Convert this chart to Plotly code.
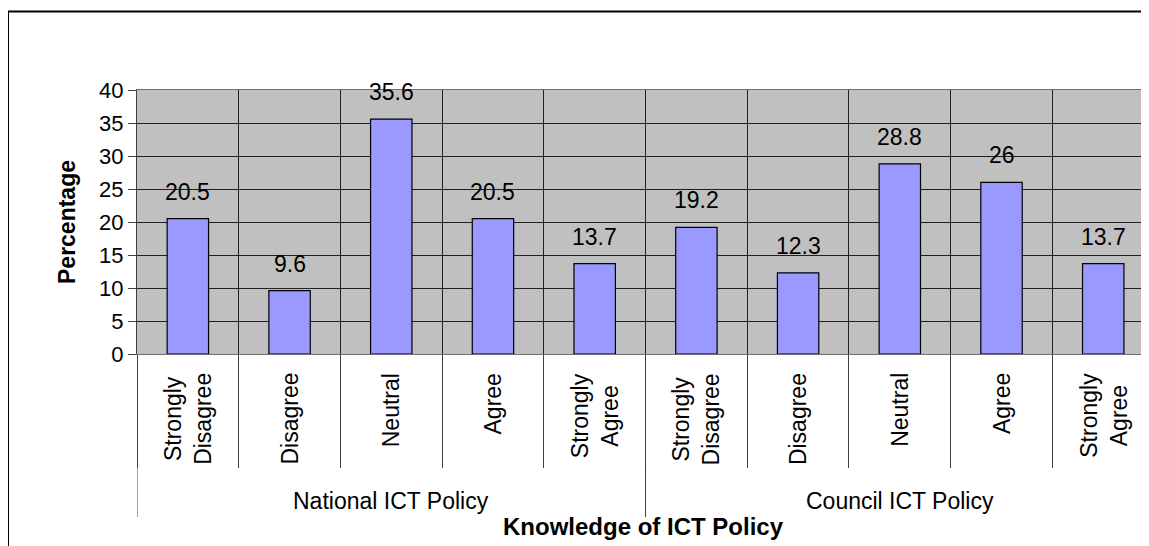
import plotly.graph_objects as go

# dane z wykresu
groups = ["National ICT Policy", "Council ICT Policy"]
responses = ["Strongly<br>Disagree", "Disagree", "Neutral", "Agree", "Strongly<br>Agree"]
national = [20.5, 9.6, 35.6, 20.5, 13.7]
council = [19.2, 12.3, 28.8, 26, 13.7]
y_ticks = [0, 5, 10, 15, 20, 25, 30, 35, 40]

values = national + council
labels = responses + responses
xs = list(range(len(values)))

FONT = "Liberation Sans, Arial, sans-serif"
FS = 23

# strona ma margines 8px, wiec wszystko jest przesuniete
W, H = 1141, 538
L, T, B = 129, 82, 192
plot_w = W - L
plot_h = H - T - B

fig = go.Figure()

fig.add_trace(go.Bar(
    x=xs,
    y=values,
    width=0.407,
    marker=dict(color="#9999FF", line=dict(color="#000000", width=1.2)),
    hoverinfo="x+y",
    showlegend=False,
))

annotations = []

# etykiety wartosci nad slupkami
for x, v in zip(xs, values):
    annotations.append(dict(
        x=x, y=v, xref="x", yref="y", text=f"{v:g}",
        showarrow=False, yanchor="bottom", yshift=12,
        font=dict(family=FONT, size=FS, color="#000000"),
    ))

# etykiety kategorii (obrocone)
for x, lab in zip(xs, labels):
    annotations.append(dict(
        x=x, y=0, xref="x", yref="paper", text=lab,
        showarrow=False, textangle=-90, yanchor="top", yshift=-17,
        font=dict(family=FONT, size=FS, color="#000000"),
    ))

# etykiety grup
n = len(responses)
for i, g in enumerate(groups):
    annotations.append(dict(
        x=i * n + (n - 1) / 2, y=0, xref="x", yref="paper", text=g,
        showarrow=False, yanchor="middle", yshift=-147,
        font=dict(family=FONT, size=FS, color="#000000"),
    ))

# tytuly osi
annotations.append(dict(
    x=0.5, y=0, xref="paper", yref="paper", text="<b>Knowledge of ICT Policy</b>",
    showarrow=False, yanchor="middle", yshift=-172,
    font=dict(family=FONT, size=24, color="#000000"),
))
annotations.append(dict(
    x=0, y=0.5, xref="paper", yref="paper", text="<b>Percentage</b>",
    showarrow=False, textangle=-90, xanchor="center", xshift=-70,
    font=dict(family=FONT, size=FS, color="#000000"),
))

shapes = []
# przedluzone linie oddzielajace grupy
for gx in [-0.5, n - 0.5, 2 * n - 0.5]:
    shapes.append(dict(
        type="line", xref="x", yref="paper",
        x0=gx, x1=gx, y0=-113 / plot_h, y1=-163 / plot_h,
        line=dict(color="#404040", width=1),
    ))
# ramka wykresu
shapes.append(dict(
    type="rect", xref="paper", yref="paper",
    x0=-L / plot_w, x1=1.2, y0=1 + (T - 3.5) / plot_h, y1=-1.5,
    line=dict(color="#000000", width=2), fillcolor="rgba(0,0,0,0)",
    layer="above",
))

fig.update_layout(
    width=W,
    height=H,
    margin=dict(l=L, r=0, t=T, b=B),
    paper_bgcolor="#FFFFFF",
    plot_bgcolor="#C0C0C0",
    bargap=0.59,
    annotations=annotations,
    shapes=shapes,
    font=dict(family=FONT, size=FS, color="#000000"),
)

fig.update_xaxes(
    range=[-0.5, 9.45],
    tickvals=[i - 0.5 for i in range(len(values) + 1)],
    showticklabels=False,
    ticks="outside",
    ticklen=113,
    tickcolor="#404040",
    tickwidth=1,
    showgrid=True,
    gridcolor="#202020",
    gridwidth=1,
    showline=True,
    linecolor="#707070",
    linewidth=1,
    mirror=True,
    zeroline=False,
)

fig.update_yaxes(
    range=[0, 40],
    tickvals=y_ticks,
    ticks="outside",
    ticklen=8,
    tickcolor="#404040",
    showgrid=True,
    gridcolor="#202020",
    gridwidth=1,
    showline=True,
    linecolor="#404040",
    linewidth=1,
    zeroline=False,
    tickfont=dict(family=FONT, size=22, color="#000000"),
)

fig.write_html("out.html")
